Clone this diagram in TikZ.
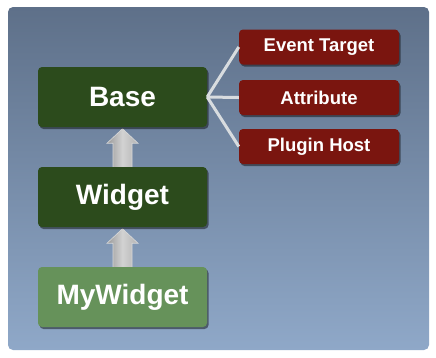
\documentclass[tikz,border=0pt]{standalone}
\usepackage{fontspec}
\setmainfont{Liberation Sans}
\usetikzlibrary{shadows,calc}
\pgfdeclarelayer{bg}
\pgfdeclarelayer{behind}
\pgfsetlayers{bg,behind,main}
\definecolor{bgtop}{HTML}{5E7089}
\definecolor{bgbot}{HTML}{8FA8C8}
\definecolor{darkgreen}{HTML}{2C4B1C}
\definecolor{lightgreen}{HTML}{66925A}
\definecolor{darkred}{HTML}{7A150F}
\definecolor{linegray}{HTML}{D8DCDF}
\tikzset{
  x=1pt, y=-1pt,
  boxshadow/.style={drop shadow={shadow xshift=1.5pt, shadow yshift=-2pt, opacity=0.45, fill=black}},
  greenbox/.style={rectangle, rounded corners=4pt, fill=darkgreen, text=white, font=\bfseries\fontsize{28}{30}\selectfont, minimum width=169pt, minimum height=60pt, inner sep=0pt, boxshadow},
  redbox/.style={rectangle, rounded corners=4pt, fill=darkred, text=white, font=\bfseries\fontsize{18.5}{20}\selectfont, minimum width=160pt, minimum height=35pt, inner sep=0pt, boxshadow},
  link/.style={draw=linegray, line width=3pt},
  blockarrow/.style={draw=white!70!gray, line width=0.6pt, left color=gray!80, right color=gray!60, middle color=gray!35},
}
\begin{document}
\begin{tikzpicture}
\useasboundingbox (0,0) rectangle (436,357);
\begin{pgfonlayer}{bg}
\shade[top color=bgtop, bottom color=bgbot, rounded corners=5pt] (8,7) rectangle (429,350);
\end{pgfonlayer}

\node[greenbox] (base) at (122.5,97) {Base};
\node[greenbox] (widget) at (122.5,197) {Widget};
\node[greenbox, fill=lightgreen] (mywidget) at (122.5,297) {MyWidget};

\node[redbox] (event) at (319,47) {Event Target};
\node[redbox] (attr) at (319,97.5) {Attribute};
\node[redbox] (plugin) at (319,146.5) {Plugin Host};

\coordinate (hub) at (base.east);
\draw[link] (hub) -- (event.west);
\draw[link] (hub) -- (attr.west);
\draw[link] (hub) -- (plugin.west);

% block arrows (drawn behind the boxes)
\begin{pgfonlayer}{behind}
\foreach \lo/\hi in {widget/base, mywidget/widget}{
  \path[blockarrow]
    ($(\lo.north)+(-9.5,5)$) -- ($(\hi.south)+(-9.5,16)$) -- ($(\hi.south)+(-15.5,16)$)
    -- ($(\hi.south)+(0,1.5)$) -- ($(\hi.south)+(15.5,16)$) -- ($(\hi.south)+(9.5,16)$)
    -- ($(\lo.north)+(9.5,5)$) -- cycle;
}
\end{pgfonlayer}
\end{tikzpicture}
\end{document}
